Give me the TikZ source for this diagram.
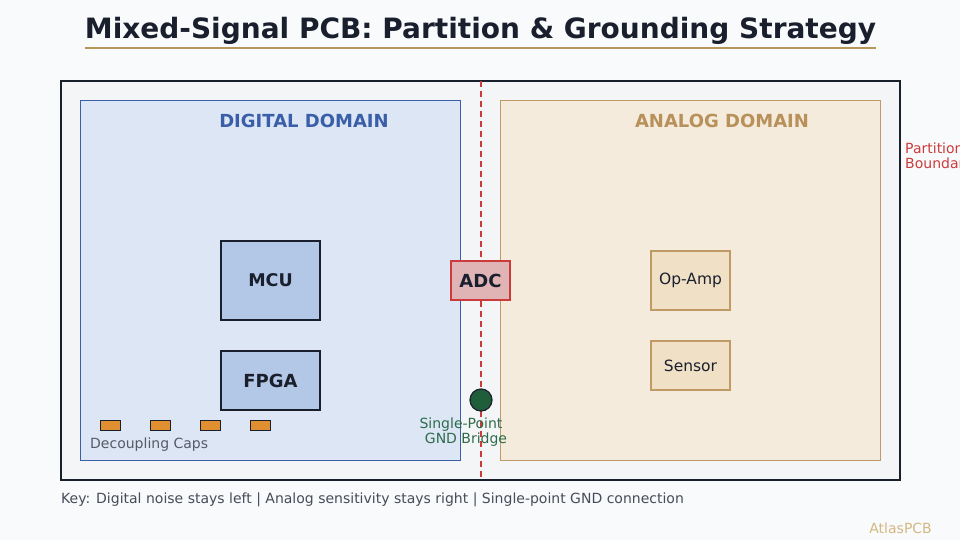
\documentclass[tikz,border=0pt]{standalone}
\usepackage{fontspec}
\setmainfont{DejaVu Sans}
\definecolor{bg}{HTML}{F8FAFC}
\definecolor{ink}{HTML}{1A1F2E}
\definecolor{tan}{HTML}{B8965A}
\definecolor{board}{HTML}{F4F5F7}
\definecolor{digfill}{HTML}{DCE6F5}
\definecolor{digline}{HTML}{3A5FA8}
\definecolor{anafill}{HTML}{F5EBDC}
\definecolor{analine}{HTML}{C09A65}
\definecolor{anatext}{HTML}{B8905A}
\definecolor{chipblue}{HTML}{B3C8E6}
\definecolor{chiptan}{HTML}{F0E0C6}
\definecolor{adcfill}{HTML}{E0B4B4}
\definecolor{redl}{HTML}{CC3B3B}
\definecolor{gndfill}{HTML}{1E5E3A}
\definecolor{gndtext}{HTML}{2E6B4A}
\definecolor{capfill}{HTML}{E09030}
\definecolor{greytext}{HTML}{555B66}
\definecolor{logo}{HTML}{D4B880}
\tikzset{
  chip/.style={draw=ink, line width=1.5pt, fill=chipblue, font=\fontsize{17.5}{19}\selectfont\bfseries, text=ink, inner sep=0pt},
  achip/.style={draw=analine, line width=1.5pt, fill=chiptan, font=\fontsize{15.5}{17}\selectfont, text=ink, inner sep=0pt},
  capbox/.style={draw=ink, line width=0.8pt, fill=capfill, minimum width=20pt, minimum height=10pt, inner sep=0pt},
  lbl/.style={font=\fontsize{14}{15}\selectfont, inner sep=0pt},
}
\begin{document}
\begin{tikzpicture}[x=1pt,y=-1pt]
\useasboundingbox (0,0) rectangle (960,540);
\fill[bg] (0,0) rectangle (960,540);
% title
\node[font=\fontsize{28}{32}\selectfont\bfseries, text=ink, inner sep=0pt] (title) at (480.5,31) {Mixed-Signal PCB: Partition \& Grounding Strategy};
\draw[tan, line width=2pt] (85,48) coordinate (ul1) -- (876,48) coordinate (ul2);
% board
\node[draw=ink, line width=1.5pt, fill=board, minimum width=839pt, minimum height=399pt, inner sep=0pt] (boardr) at (480.5,280.5) {};
% domains
\node[draw=digline, line width=0.7pt, fill=digfill, minimum width=380pt, minimum height=360pt, inner sep=0pt] (dig) at (270,280) {};
\node[draw=analine, line width=0.7pt, fill=anafill, minimum width=380pt, minimum height=360pt, inner sep=0pt] (ana) at (690,280) {};
\node[font=\fontsize{18}{20}\selectfont\bfseries, text=digline, inner sep=0pt] (digt) at (304,121) {DIGITAL DOMAIN};
\node[font=\fontsize{18}{20}\selectfont\bfseries, text=anatext, inner sep=0pt] (anat) at (722,121) {ANALOG DOMAIN};
% partition line
\coordinate (pt) at (481,81);
\coordinate (pb) at (481,480);
\draw[redl, line width=1.5pt, dash pattern=on 6pt off 4pt] (pt) -- (pb);
\node[lbl, text=redl, anchor=north west, align=left] (part) at (905,142.5) {Partition\\Boundary};
% chips
\node[chip, minimum width=99pt, minimum height=79pt] (mcu) at (270.5,280.5) {MCU};
\node[chip, font=\fontsize{18}{20}\selectfont\bfseries, minimum width=99pt, minimum height=59pt] (fpga) at (270.5,380.5) {FPGA};
\node[chip, draw=redl, fill=adcfill, font=\fontsize{18}{20}\selectfont\bfseries, minimum width=59pt, minimum height=39pt] (adc) at (480.5,280.5) {ADC};
\node[achip, minimum width=79pt, minimum height=59pt] (opamp) at (690.5,280.5) {Op-Amp};
\node[achip, minimum width=79pt, minimum height=49pt] (sensor) at (690.5,365.5) {Sensor};
% gnd bridge
\node[circle, draw=ink, line width=1.2pt, fill=gndfill, minimum size=22pt, inner sep=0pt] (gnd) at (481,400) {};
\node[lbl, text=gndtext] (gndl1) at (461,424.5) {Single-Point};
\node[lbl, text=gndtext] (gndl2) at (466,439.5) {GND Bridge};
% caps
\node[capbox] (c1) at (110,425) {};
\node[capbox] (c2) at (160,425) {};
\node[capbox] (c3) at (210,425) {};
\node[capbox] (c4) at (260,425) {};
\node[lbl, text=greytext, anchor=west] (capl) at (90,444.5) {Decoupling Caps};
% key
\node[lbl, text=ink!80, anchor=west] (key) at (61,499.5) {Key: Digital noise stays left | Analog sensitivity stays right | Single-point GND connection};
\node[lbl, text=logo, anchor=east] (logo) at (932,528) {AtlasPCB};
\end{tikzpicture}
\end{document}
